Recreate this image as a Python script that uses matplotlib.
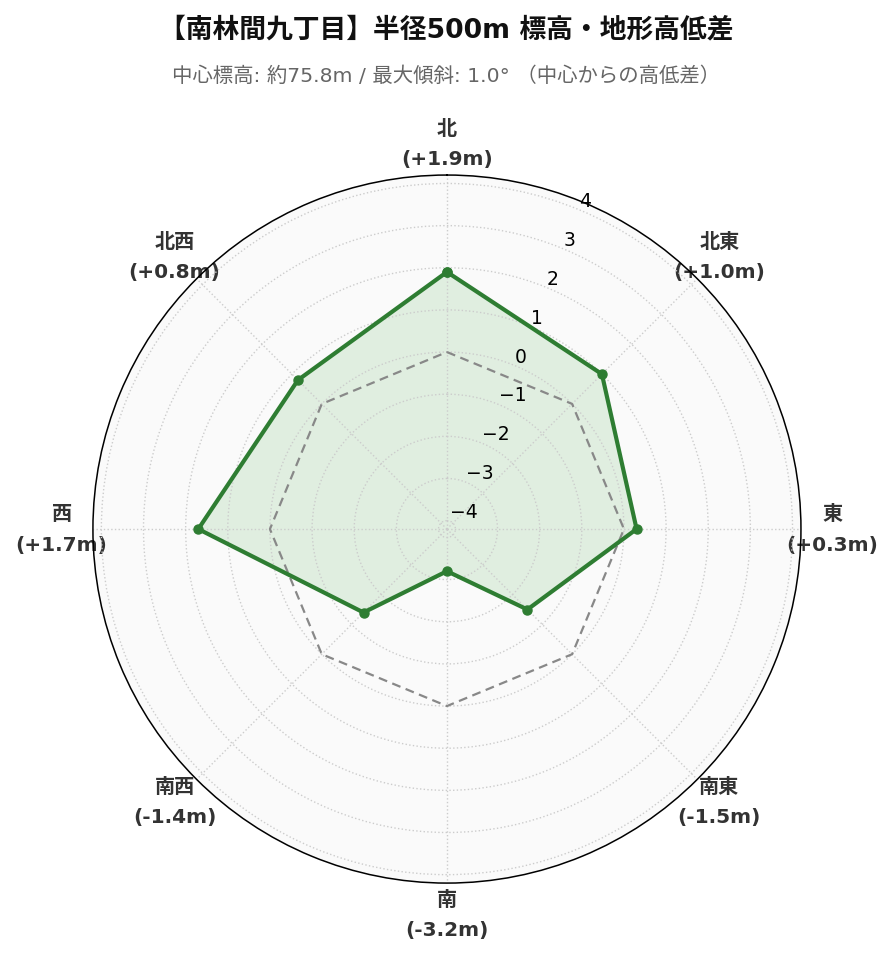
import numpy as np
import matplotlib
matplotlib.use("Agg")
import matplotlib.pyplot as plt

plt.rcParams['font.family'] = ['DejaVu Sans', 'Noto Sans CJK JP']

directions = ['北', '北東', '東', '南東', '南', '南西', '西', '北西']
diffs = [1.9, 1.0, 0.3, -1.5, -3.2, -1.4, 1.7, 0.8]
rticks = [-4, -3, -2, -1, 0, 1, 2, 3, 4]

title = '【南林間九丁目】半径500m 標高・地形高低差'
subtitle = '中心標高: 約75.8m / 最大傾斜: 1.0° （中心からの高低差）'

green = '#2e7d32'

angles = np.deg2rad(np.arange(len(directions)) * 45.0)
ang_closed = np.append(angles, angles[0])
val_closed = np.append(diffs, diffs[0])
zero_closed = np.zeros(len(ang_closed))

fig = plt.figure(figsize=(8.93, 9.62), dpi=100)
ax = fig.add_axes([0.104, 0.081, 0.793, 0.736], projection='polar')
ax.set_facecolor('#fafafa')
ax.set_theta_zero_location('N')
ax.set_theta_direction(-1)

ax.plot(ang_closed, zero_closed, color='#888888', lw=1.6, ls=(0, (4, 2.5)))
ax.fill(ang_closed, val_closed, color='#4caf50', alpha=0.15, lw=0)
ax.plot(ang_closed, val_closed, color=green, lw=3, marker='o', ms=6.5)

ax.set_ylim(-4.2, 4.2)
ax.set_yticks(rticks)
ax.set_yticklabels([str(t).replace('-', '\u2212') for t in rticks], fontsize=13.5)
ax.set_rlabel_position(22.5)

labels = []
for d, v in zip(directions, diffs):
    labels.append('%s\n(%+.1fm)' % (d, v))
ax.set_xticks(angles)
ax.set_xticklabels(labels, fontsize=14.5, fontweight='bold', color='#333333',
                   linespacing=1.75)
ax.tick_params(axis='x', pad=12)

ax.grid(True, color='#cccccc', ls=':', lw=1)
ax.spines['polar'].set_color('black')
ax.spines['polar'].set_linewidth(1.1)

fig.text(0.5, 0.968, title, ha='center', va='center', fontsize=19.3,
         fontweight='bold', color='#111111')
fig.text(0.5, 0.921, subtitle, ha='center', va='center', fontsize=14.7,
         color='#666666')

fig.savefig('out.png', dpi=100)
